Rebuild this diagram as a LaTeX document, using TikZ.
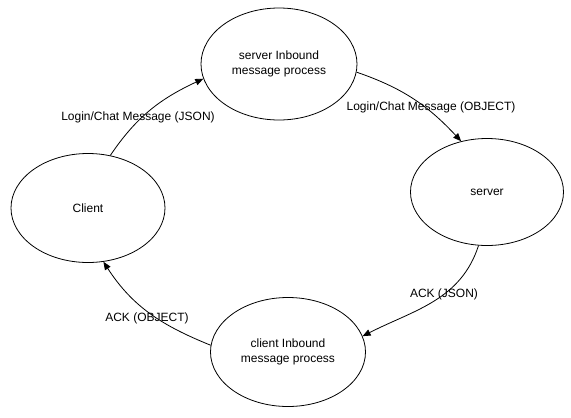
\documentclass[tikz,border=0pt]{standalone}
\usepackage{fontspec}
\setmainfont{Liberation Sans}
\usetikzlibrary{shapes.geometric,arrows.meta}
\begin{document}
\begin{tikzpicture}[x=1pt,y=-1pt,
  state/.style={draw,ellipse,inner sep=0pt,line width=0.8pt,align=center,font=\fontsize{12}{15}\selectfont},
  flow/.style={draw,line width=0.8pt,-{Triangle[length=8pt,width=6.5pt]}},
  lbl/.style={inner sep=0pt,font=\fontsize{12}{15}\selectfont}]
\useasboundingbox (0,0) rectangle (571,418);
\node[state,minimum width=156pt,minimum height=112pt] (sin) at (279,64) {server Inbound\\message process};
\node[state,minimum width=153pt,minimum height=107pt] (srv) at (487,192) {server};
\node[state,minimum width=154pt,minimum height=109pt] (cli) at (88,208) {Client};
\node[state,minimum width=155pt,minimum height=109pt] (cin) at (288,352) {client Inbound\\message process};
\draw[flow] (cli.67) to[out=56,in=205] (sin.191);
\draw[flow] (sin.354) to[out=-19,in=133] (srv.117);
\draw[flow] (srv.261) to[out=-108,in=27] (cin.12);
\draw[flow] (cin.175) to[out=158,in=-57] (cli.286);
\node[lbl] (l1) at (138,117) {Login/Chat Message (JSON)};
\node[lbl] (l2) at (431,107) {Login/Chat Message (OBJECT)};
\node[lbl] (l3) at (444,294) {ACK (JSON)};
\node[lbl] (l4) at (147,318) {ACK (OBJECT)};
\end{tikzpicture}
\end{document}
